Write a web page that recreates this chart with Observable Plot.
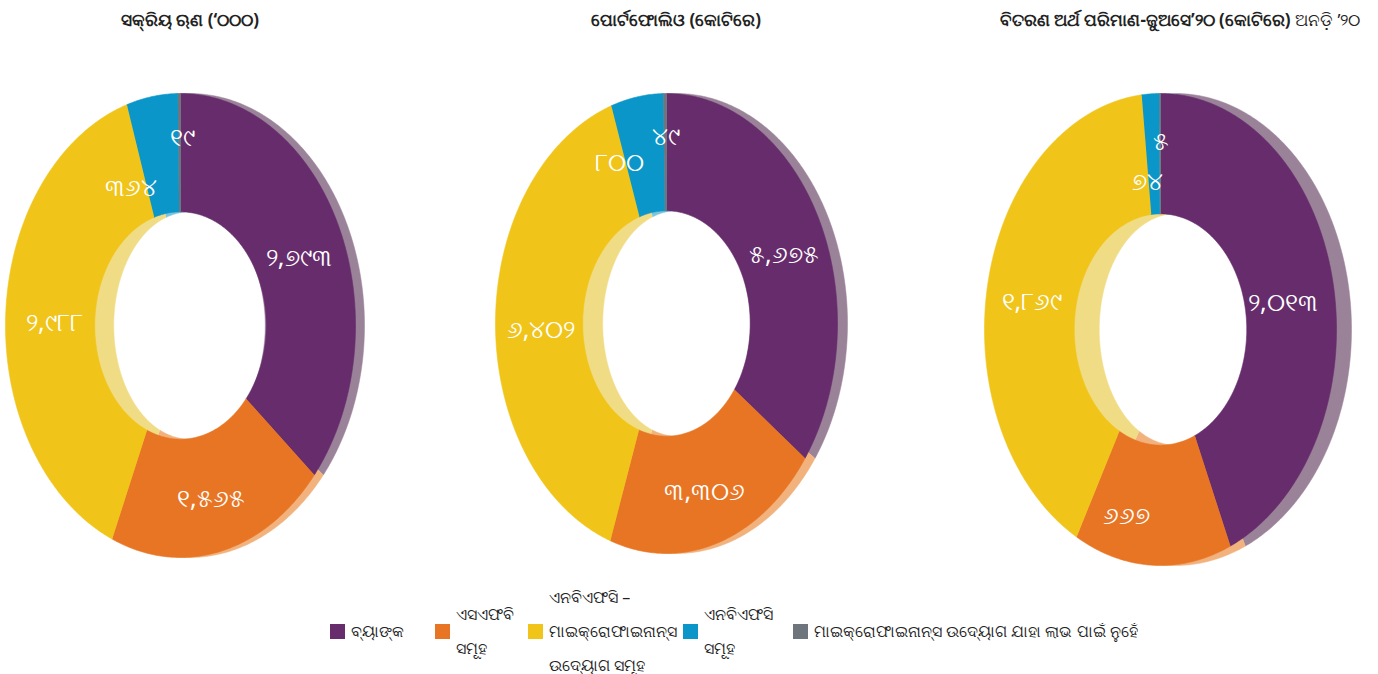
<!DOCTYPE html>
<html>
<head>
<meta charset="utf-8">
<script src="https://cdn.jsdelivr.net/npm/d3@7"></script>
<script src="https://cdn.jsdelivr.net/npm/@observablehq/plot@0.6"></script>
<style>
  body { margin:0; width:1378px; height:674px; position:relative; overflow:hidden; background:#fff;
         font-family:"Noto Sans", "DejaVu Sans", sans-serif; color:#222; }
  .title { position:absolute; top:8px; transform:translateX(-50%); white-space:nowrap;
           font-size:17px; font-weight:bold; }
  .title span { font-weight:normal; }
  .chart { position:absolute; top:45px; }
  .item { position:absolute; top:631px; transform:translateY(-50%); display:flex; align-items:center; }
  .sw { width:15px; height:15px; flex:none; margin-right:6px; }
  .lines { font-size:16px; line-height:34px; white-space:nowrap; }
</style>
</head>
<body>
<script>
// ---------- data ----------
const categories = [
  "ବ୍ୟାଙ୍କ",
  "ଏସଏଫବି ସମୂହ",
  "ଏନବିଏଫସି – ମାଇକ୍ରୋଫାଇନାନ୍ସ ଉଦ୍ୟୋଗ ସମୂହ",
  "ଏନବିଏଫସି ସମୂହ",
  "ମାଇକ୍ରୋଫାଇନାନ୍ସ ଉଦ୍ୟୋଗ ଯାହା ଲାଭ ପାଇଁ ନୁହେଁ"
];
const legendLines = [
  ["ବ୍ୟାଙ୍କ"],
  ["ଏସଏଫବି", "ସମୂହ"],
  ["ଏନବିଏଫସି –", "ମାଇକ୍ରୋଫାଇନାନ୍ସ", "ଉଦ୍ୟୋଗ ସମୂହ"],
  ["ଏନବିଏଫସି", "ସମୂହ"],
  ["ମାଇକ୍ରୋଫାଇନାନ୍ସ ଉଦ୍ୟୋଗ ଯାହା ଲାଭ ପାଇଁ ନୁହେଁ"]
];
const titles = [
  "ସକ୍ରିୟ ଋଣ (‘୦୦୦)",
  "ପୋର୍ଟଫୋଲିଓ (କୋଟିରେ)",
  "ବିତରଣ ଅର୍ଥ ପରିମାଣ-ଜୁଅସେ’୨୦ (କୋଟିରେ)"
];
const titleSuffix = ["", "", "ଅନଡ଼ି ’୨୦"];
const activeLoans  = [2793, 1565, 2988, 364, 19];
const portfolio    = [5675, 3306, 6402, 800, 49];
const disbursement = [2013, 667, 1869, 74, 5];
const seriesValues = [activeLoans, portfolio, disbursement];

// ---------- styles / layout ----------
const colors    = ["#662c6b", "#e87524", "#f0c419", "#0a96c8", "#6e757c"];
const rimColors = ["#9a8299", "#f1b27e", "#f1dc86", "#7cc3dd", "#a0a4a8"];
const layout = [
  {cx:180,  cy:325, rx:175, ry:232, tx:190,  depth:9},
  {cx:666,  cy:323, rx:171, ry:230, tx:676,  depth:10},
  {cx:1160, cy:329, rx:176, ry:236, tx:1180, depth:15}
];
const labelNudge = [
  [[0,0],[0,0],[4,0],[-28,28],[3,-20]],
  [[4,4],[0,0],[2,2],[-25,3],[1,-20]],
  [[-6,4],[-28,6],[0,2],[-6,23],[1,-17]]
];
const legendX = [330, 435, 528, 683, 793];
const inner = 0.49, plotW = 420, plotH = 560;

const odia = s => s.replace(/\d/g, d => String.fromCharCode(0x0B66 + +d));
const fmt = d3.format(",");

function ringPoints(arcs, k, kxInner, shift) {
  const pts = [];
  arcs.forEach((a, i) => {
    const n = Math.max(2, Math.ceil((a.endAngle - a.startAngle) / 0.01) + 1);
    const angs = d3.range(n).map(j => a.startAngle + (a.endAngle - a.startAngle) * j / (n - 1));
    for (const t of angs) pts.push({key:i, cat:categories[i], x: Math.sin(t) + shift, y: Math.cos(t)});
    for (const t of angs.slice().reverse()) pts.push({key:i, cat:categories[i], x: kxInner * Math.sin(t) + shift, y: k * Math.cos(t)});
  });
  return pts;
}

seriesValues.forEach((values, c) => {
  const L = layout[c];
  const arcs = d3.pie().sort(null).value(d => d)(values);
  const sx = L.depth / L.rx;
  const front = ringPoints(arcs, inner, inner, 0);
  const back  = ringPoints(arcs, inner, inner - 10 / L.rx, sx);
  const lcx = plotW / 2, lcy = L.cy - 45;
  const labels = arcs.map((a, i) => {
    const m = (a.startAngle + a.endAngle) / 2, r = (1 + inner) / 2;
    return {
      x: r * Math.sin(m) + labelNudge[c][i][0] / L.rx,
      y: r * Math.cos(m) - labelNudge[c][i][1] / L.ry,
      text: odia(fmt(values[i]))
    };
  });
  const chart = Plot.plot({
    width: plotW, height: plotH, margin: 0,
    x: {domain: [-1, 1], range: [lcx - L.rx, lcx + L.rx], axis: null},
    y: {domain: [-1, 1], range: [lcy + L.ry, lcy - L.ry], axis: null},
    color: {domain: categories, range: colors},
    style: {background: "transparent", overflow: "visible"},
    marks: [
      Plot.line(back, {x: "x", y: "y", z: "key", fill: d => rimColors[d.key], stroke: d => rimColors[d.key], strokeWidth: 0.5}),
      Plot.line(front, {x: "x", y: "y", z: "key", fill: "cat", stroke: "cat", strokeWidth: 0.6}),
      Plot.text(labels, {x: "x", y: "y", text: "text", fill: "white", fontSize: 25, dy: 5,
        fontFamily: "Noto Sans, DejaVu Sans, sans-serif"})
    ]
  });
  const div = document.createElement("div");
  div.className = "chart";
  div.style.left = (L.cx - plotW / 2) + "px";
  div.appendChild(chart);
  document.body.appendChild(div);

  const t = document.createElement("div");
  t.className = "title";
  t.style.left = L.tx + "px";
  t.textContent = titles[c];
  if (titleSuffix[c]) {
    const s = document.createElement("span");
    s.textContent = " " + titleSuffix[c];
    t.appendChild(s);
  }
  document.body.appendChild(t);
});

legendLines.forEach((lines, i) => {
  const it = document.createElement("div");
  it.className = "item";
  it.style.left = legendX[i] + "px";
  const sw = document.createElement("div");
  sw.className = "sw";
  sw.style.background = colors[i];
  const tx = document.createElement("div");
  tx.className = "lines";
  tx.innerHTML = lines.map(l => `<div>${l}</div>`).join("");
  it.appendChild(sw); it.appendChild(tx);
  document.body.appendChild(it);
});
</script>
</body>
</html>
